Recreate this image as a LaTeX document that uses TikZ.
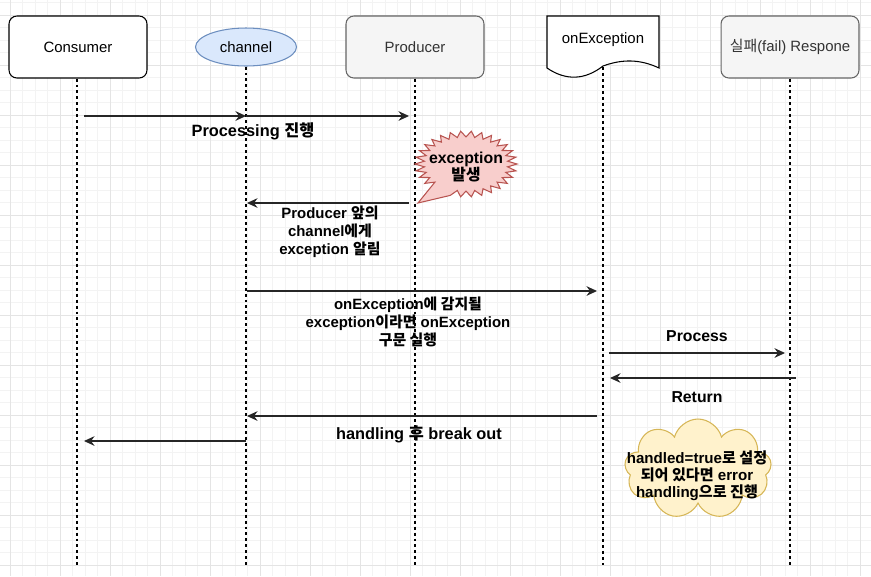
\documentclass[tikz,border=0pt]{standalone}
\usepackage{fontspec}
\setmainfont{Liberation Sans}
\newfontfamily\krfont{Noto Sans CJK KR}
\newcommand{\ko}[1]{{\krfont #1}}
\usetikzlibrary{arrows.meta, shapes.geometric, shapes.symbols, positioning}

\definecolor{gridmajor}{HTML}{E4E4E4}
\definecolor{gridminor}{HTML}{F3F3F3}
\definecolor{chanfill}{HTML}{DAE8FC}
\definecolor{chanline}{HTML}{6C8EBF}
\definecolor{greyfill}{HTML}{F5F5F5}
\definecolor{greyline}{HTML}{666666}
\definecolor{greytext}{HTML}{333333}
\definecolor{boomfill}{HTML}{F8CECC}
\definecolor{boomline}{HTML}{B85450}
\definecolor{cloudfill}{HTML}{FFF2CC}
\definecolor{cloudline}{HTML}{D6B656}

\tikzset{
  actor/.style={draw, line width=0.6pt, rounded corners=4.5pt, minimum width=2.76cm,
    minimum height=1.24cm, font=\fontsize{8.5}{10}\selectfont},
  lifeline/.style={dash pattern=on 1.7pt off 1.7pt, line width=0.6pt},
  msg/.style={-{Stealth[length=6pt,width=5.5pt,inset=2pt]}, line width=0.6pt, draw=black!85},
  msglabel/.style={font=\bfseries\fontsize{8.5}{10.2}\selectfont, align=center},
}

\begin{document}
\begin{tikzpicture}[x=0.02cm, y=-0.02cm]
    \useasboundingbox (0,0) rectangle (871,576);
    \fill[white] (0,0) rectangle (871,576);

    % Grid
    \foreach \gx in {-2.5,10,...,871} \draw[gridminor, line width=0.4pt] (\gx,0) -- (\gx,576);
    \foreach \gy in {2.5,15,...,576} \draw[gridminor, line width=0.4pt] (0,\gy) -- (871,\gy);
    \foreach \gx in {10,60,...,860} \draw[gridmajor, line width=0.5pt] (\gx,0) -- (\gx,576);
    \foreach \gy in {15,65,...,565} \draw[gridmajor, line width=0.5pt] (0,\gy) -- (871,\gy);

    % Participants
    \node[actor, fill=white] (consumer) at (78,47) {Consumer};
    \node[ellipse, draw=chanline, fill=chanfill, line width=0.6pt, inner sep=0pt,
      minimum width=2.02cm, minimum height=0.76cm, font=\fontsize{8.5}{10}\selectfont] (channel) at (246,47) {channel};
    \node[actor, draw=greyline, fill=greyfill, text=greytext] (producer) at (415,47) {Producer};
    \draw[line width=0.6pt, fill=white] (547,16) -- (659,16) -- (659,68)
      .. controls (640,59) and (622,59) .. (603,66)
      .. controls (585,80) and (566,81) .. (547,68) -- cycle;
    \node[font=\fontsize{8.5}{10}\selectfont] (onexc) at (603,40) {onException};
    \coordinate (onexcfoot) at (603,67);
    \node[actor, draw=greyline, fill=greyfill, text=greytext] (fail) at (790,47) {\ko{실패}(fail) Respone};

    % Lifelines
    \coordinate (bottom) at (0,565);
    \draw[lifeline] ([xshift=-0.02cm]consumer.south) -- ([xshift=-0.02cm]consumer.south |- bottom);
    \draw[lifeline] (channel.south) -- (channel.south |- bottom);
    \draw[lifeline] (producer.south) -- (producer.south |- bottom);
    \draw[lifeline] (onexcfoot) -- (onexcfoot |- bottom);
    \draw[lifeline] (fail.south) -- (fail.south |- bottom);

    % Message end points
    \coordinate (m1a) at (84,116);  \coordinate (m1b) at (246,116); \coordinate (m1c) at (409,116);
    \coordinate (m2a) at (409,203); \coordinate (m2b) at (247,203);
    \coordinate (m3a) at (247,291); \coordinate (m3b) at (597,291);
    \coordinate (m4a) at (609,353); \coordinate (m4b) at (785,353);
    \coordinate (m5a) at (796,378); \coordinate (m5b) at (610,378);
    \coordinate (m6a) at (597,416); \coordinate (m6b) at (247,416);
    \coordinate (m7a) at (246,441); \coordinate (m7b) at (84,441);

    % Messages
    \draw[msg] (m1a) -- (m1b);
    \draw[msg] (m1b) -- (m1c);
    \draw[msg] (m2a) -- (m2b);
    \draw[msg] (m3a) -- (m3b);
    \draw[msg] (m4a) -- (m4b);
    \draw[msg] (m5a) -- (m5b);
    \draw[msg] (m6a) -- (m6b);
    \draw[msg] (m7a) -- (m7b);

    % Labels
    \node[msglabel, font=\bfseries\fontsize{9.3}{10.2}\selectfont] (l1) at (253,131) {Processing \ko{진행}};
    \node[msglabel, font=\bfseries\fontsize{8.5}{10.2}\selectfont] (l2) at (330,232)
      {Producer \ko{앞의}\\channel\ko{에게}\\exception \ko{알림}};
    \node[msglabel] (l3) at (408,322)
      {onException\ko{에 감지될}\\exception\ko{이라면} onException\\\ko{구문 실행}};
    \node[msglabel, font=\bfseries\fontsize{9}{10.2}\selectfont] (l4) at (697,336) {Process};
    \node[msglabel, font=\bfseries\fontsize{9}{10.2}\selectfont] (l5) at (697,397) {Return};
    \node[msglabel, font=\bfseries\fontsize{9.3}{10.2}\selectfont] (l6) at (419,434) {handling \ko{후} break out};

    % Exception burst
    \draw[boomline, fill=boomfill, line width=0.6pt]
      ({466+51*0.82*cos(138)},{164+33*0.82*sin(138)})
      \foreach \a [evaluate=\a as \r using {ifthenelse(mod(\a,12)==0,1,0.82)}] in {144,150,...,468}
        { -- ({466+51*\r*cos(\a)},{164+33*\r*sin(\a)}) }
      -- (418,203) -- cycle;
    \node[msglabel, font=\bfseries\fontsize{9}{10.2}\selectfont] (boom) at (466,167) {exception\\\ko{발생}};

    % Handled note
    \node[cloud, cloud puffs=9, aspect=1.5, draw=cloudline, fill=cloudfill, line width=0.6pt,
      minimum width=2.94cm, minimum height=2cm] (note) at (698,469) {};
    \node[msglabel, font=\bfseries\fontsize{8.6}{9.6}\selectfont] (notetext) at (697,476)
      {handled=true\ko{로 설정}\\\ko{되어 있다면} error\\handling\ko{으로 진행}};
\end{tikzpicture}
\end{document}
